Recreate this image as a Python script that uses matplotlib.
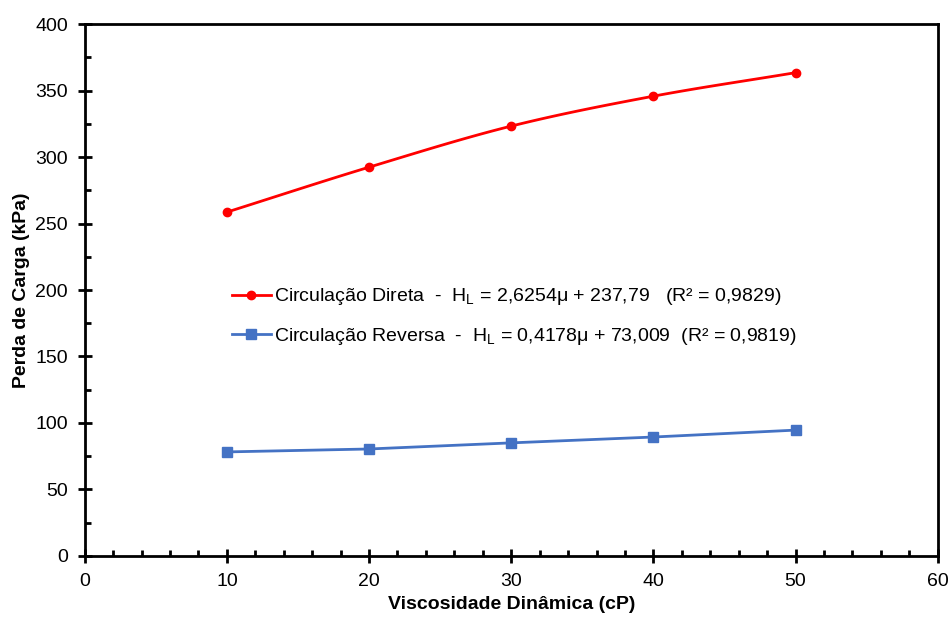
import numpy as np
import matplotlib.pyplot as plt
from matplotlib.ticker import MultipleLocator

plt.rcParams['font.family'] = ['Liberation Sans', 'DejaVu Sans']

# Viscosidade (cP) e perda de carga (kPa)
viscosidade = [10, 20, 30, 40, 50]
perda_direta = [258.6, 292.4, 323.3, 345.8, 363.5]
perda_reversa = [78.2, 80.4, 85.0, 89.4, 94.6]

label_direta = r'Circulação Direta  -  H$_\mathregular{L}$ = 2,6254μ + 237,79   (R² = 0,9829)'
label_reversa = r'Circulação Reversa  -  H$_\mathregular{L}$ = 0,4178μ + 73,009  (R² = 0,9819)'


def suavizar(x, y, n=30):
    # curva suavizada tipo Catmull-Rom entre os pontos
    x = np.asarray(x, float)
    y = np.asarray(y, float)
    px = np.concatenate([[2 * x[0] - x[1]], x, [2 * x[-1] - x[-2]]])
    py = np.concatenate([[2 * y[0] - y[1]], y, [2 * y[-1] - y[-2]]])
    xs, ys = [], []
    t = np.linspace(0, 1, n)
    for i in range(1, len(px) - 2):
        for p, out in ((px, xs), (py, ys)):
            p0, p1, p2, p3 = p[i - 1], p[i], p[i + 1], p[i + 2]
            out.extend(0.5 * (2 * p1 + (-p0 + p2) * t
                              + (2 * p0 - 5 * p1 + 4 * p2 - p3) * t ** 2
                              + (-p0 + 3 * p1 - 3 * p2 + p3) * t ** 3))
    return np.array(xs), np.array(ys)


fig, ax = plt.subplots(figsize=(9.52, 6.19), dpi=100)
fig.subplots_adjust(left=0.089, right=0.985, top=0.961, bottom=0.102)

xs, ys = suavizar(viscosidade, perda_direta)
ax.plot(xs, ys, color='#ff0000', lw=2)
ax.plot(viscosidade, perda_direta, 'o', color='#ff0000', ms=6)
ax.plot([], [], '-o', color='#ff0000', lw=2, ms=6, label=label_direta)

ax.plot(viscosidade, perda_reversa, '-s', color='#4472c4', lw=2, ms=7,
        label=label_reversa)

ax.set_xlim(0, 60)
ax.set_ylim(0, 400)
ax.xaxis.set_major_locator(MultipleLocator(10))
ax.xaxis.set_minor_locator(MultipleLocator(2))
ax.yaxis.set_major_locator(MultipleLocator(50))
ax.yaxis.set_minor_locator(MultipleLocator(25))
ax.tick_params(which='major', direction='inout', length=10, width=2,
               labelsize=14, pad=7)
ax.tick_params(which='minor', direction='in', length=4, width=2)
for s in ax.spines.values():
    s.set_linewidth(2)

ax.set_xlabel('Viscosidade Dinâmica (cP)', fontsize=14, fontweight='bold',
              labelpad=5)
ax.set_ylabel('Perda de Carga (kPa)', fontsize=14, fontweight='bold',
              labelpad=4)

ax.legend(loc='center left', bbox_to_anchor=(0.152, 0.45), frameon=False,
          fontsize=14, handlelength=2, labelspacing=0.95, handletextpad=0.15)

plt.savefig('out.png', dpi=100)
